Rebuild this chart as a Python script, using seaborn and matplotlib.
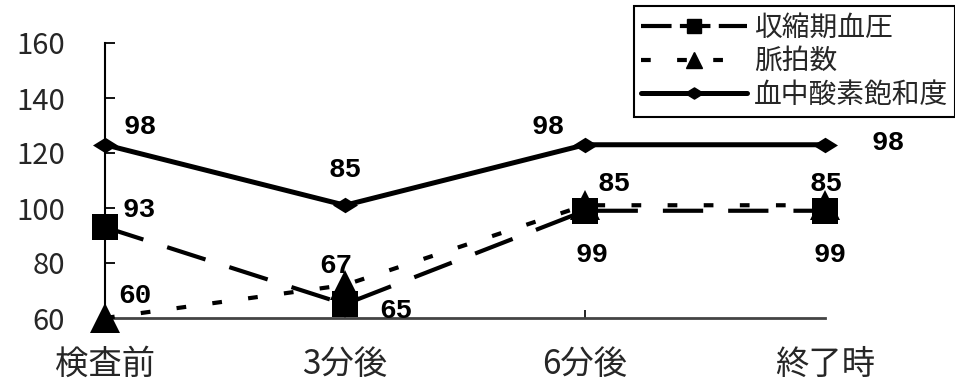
import matplotlib
matplotlib.use("Agg")
import matplotlib.pyplot as plt
from matplotlib.lines import Line2D
from matplotlib.path import Path
import pandas as pd
import seaborn as sns

# Time points and axis ticks
categories = ["検査前", "3分後", "6分後", "終了時"]
y_ticks = [60, 80, 100, 120, 140, 160]

# Systolic blood pressure
bp_name = "収縮期血圧"
bp_values = [93, 65, 99, 99]
bp_labels = ["93", "65", "99", "99"]

# Pulse rate
pulse_name = "脈拍数"
pulse_values = [60, 72, 101, 101]
pulse_labels = ["60", "67", "85", "85"]

# Blood oxygen saturation
spo2_name = "血中酸素飽和度"
spo2_values = [123, 101, 123, 123]
spo2_labels = ["98", "85", "98", "98"]

sns.set_theme(style="white")
plt.rcParams["font.family"] = ["Noto Sans CJK JP", "DejaVu Sans"]
plt.rcParams["lines.scale_dashes"] = False

rows = []
for name, vals in [(bp_name, bp_values), (pulse_name, pulse_values), (spo2_name, spo2_values)]:
    for i, v in enumerate(vals):
        rows.append({"series": name, "pos": i, "value": v})
df = pd.DataFrame(rows)

fig = plt.figure(figsize=(9.55, 3.82), dpi=100)
ax = fig.add_axes([105 / 955, 1 - 318 / 382, 720 / 955, 275 / 382])

# flattened diamond marker
diamond = Path([(-1, 0), (0, 0.62), (1, 0), (0, -0.62), (-1, 0)],
               [Path.MOVETO, Path.LINETO, Path.LINETO, Path.LINETO, Path.CLOSEPOLY])

BP_DASH = (29, 18)
PULSE_DASH = (7, 19)

styles = {
    bp_name: dict(marker="s", markersize=19, linewidth=3.0, dashes=BP_DASH),
    pulse_name: dict(marker="^", markersize=21, linewidth=3.0, dashes=PULSE_DASH),
    spo2_name: dict(marker=diamond, markersize=18, linewidth=3.6, dashes=""),
}

for name in [spo2_name, bp_name, pulse_name]:
    st = styles[name]
    sns.lineplot(data=df[df["series"] == name], x="pos", y="value", ax=ax,
                 color="black", linewidth=st["linewidth"], marker=st["marker"],
                 markersize=st["markersize"], markeredgewidth=0,
                 dashes=st["dashes"] if st["dashes"] else (None, None),
                 clip_on=False, legend=False, zorder=3)
for line in ax.get_lines():
    line.set_clip_on(False)
    line.set_solid_capstyle("butt")
    line.set_dash_capstyle("butt")
# solid style for the oxygen line
ax.get_lines()[0].set_linestyle("-")

# value labels (pixel offsets)
label_font = dict(family="Liberation Mono", fontweight="bold", fontsize=20,
                  color="black", ha="center", va="center")
offsets = {
    spo2_name: [(35, 18), (0, 35), (-37, 18), (63, 2)],
    bp_name: [(34, 17), (51, -7), (7, -44), (5, -44)],
    pulse_name: [(30, 22), (-9, 19), (29, 21), (1, 21)],
}
for name, vals, labs in [(spo2_name, spo2_values, spo2_labels),
                         (bp_name, bp_values, bp_labels),
                         (pulse_name, pulse_values, pulse_labels)]:
    for i, (v, lab) in enumerate(zip(vals, labs)):
        dx, dy = offsets[name][i]
        ax.annotate(lab, xy=(i, v), xytext=(dx * 0.72, dy * 0.72),
                    textcoords="offset points", annotation_clip=False,
                    zorder=5, **label_font)

ax.set_xlim(0, 3)
ax.set_ylim(60, 160)
ax.set_yticks(y_ticks)
ax.set_yticklabels([str(t) for t in y_ticks], fontsize=21)
ax.set_xticks(range(len(categories)))
ax.set_xticklabels(categories, fontsize=24)
ax.set_xlabel("")
ax.set_ylabel("")
ax.tick_params(axis="y", direction="in", length=7, width=1.3, color="black",
               pad=29, left=True)
ax.tick_params(axis="x", direction="in", length=6, width=1.2, color="black",
               pad=21, bottom=True)
xt = ax.xaxis.get_major_ticks()
xt[0].tick1line.set_visible(False)
xt[-1].tick1line.set_visible(False)
for s in ["top", "right"]:
    ax.spines[s].set_visible(False)
ax.spines["left"].set_color("black")
ax.spines["left"].set_linewidth(1.5)
ax.spines["bottom"].set_color("#444444")
ax.spines["bottom"].set_linewidth(2)
ax.patch.set_alpha(0)

handles = [
    Line2D([], [], color="black", lw=3, marker="s", markersize=10, dashes=(22, 6)),
    Line2D([], [], color="black", lw=3, marker="^", markersize=11, dashes=(7, 19)),
    Line2D([], [], color="black", lw=3.6, marker=diamond, markersize=13, linestyle="-"),
]
leg = fig.legend(handles, [bp_name, pulse_name, spo2_name], loc="upper right",
                 bbox_to_anchor=(1.0, 1 - 6 / 382), fontsize=20, frameon=True,
                 fancybox=False, edgecolor="black", framealpha=1,
                 handlelength=3.8, handletextpad=0.25, labelspacing=0.12,
                 borderpad=0.25, borderaxespad=0)
leg.get_frame().set_linewidth(1.5)

fig.savefig("out.png", dpi=100, facecolor="white")
